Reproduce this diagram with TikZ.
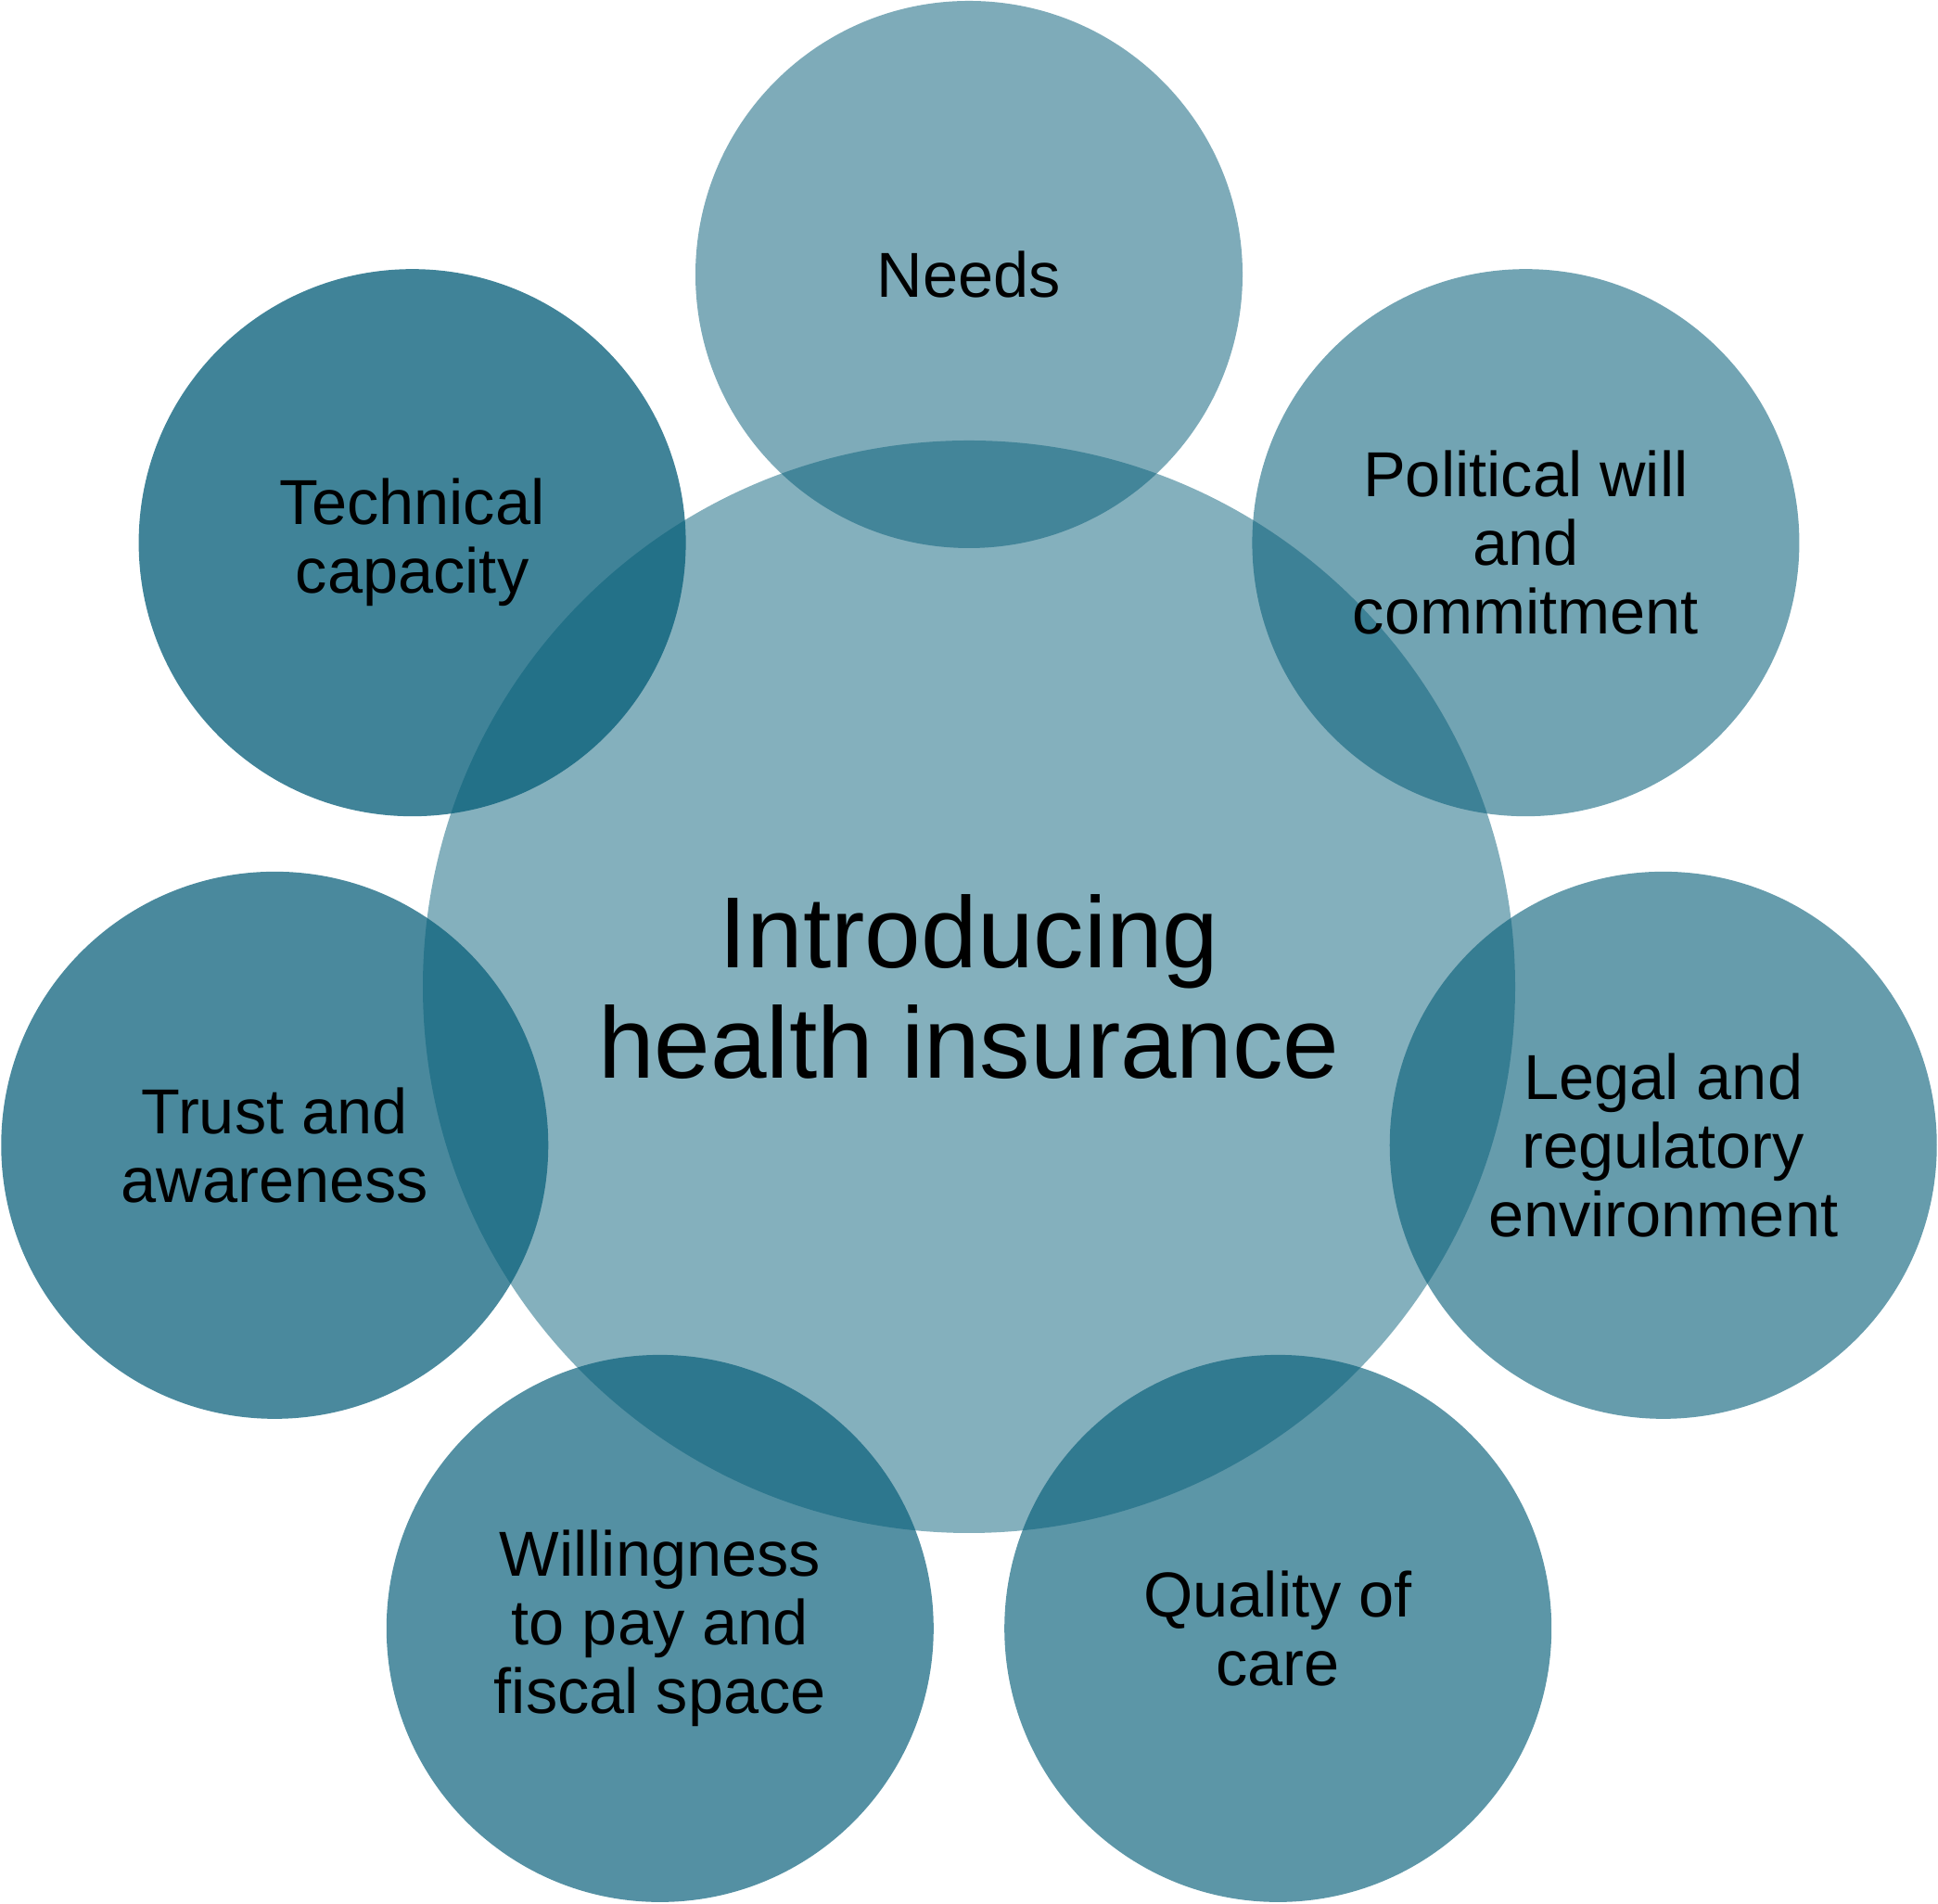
\documentclass[tikz,border=0pt]{standalone}
\usepackage{fontspec}
\setmainfont{Liberation Sans}
\usetikzlibrary{calc}
\definecolor{basecol}{RGB}{5,93,120}
\begin{document}
\begin{tikzpicture}[
  hub/.style={circle, draw=none, fill=basecol, minimum size=11.78cm, inner sep=0pt,
    align=center, text=black, text opacity=1,
    font=\fontsize{31}{34}\selectfont},
  petal/.style={circle, draw=none, fill=basecol, minimum size=5.9cm, inner sep=0pt,
    align=center, text=black, text opacity=1,
    font=\fontsize{19.5}{21.1}\selectfont}
]
\useasboundingbox (0,0) rectangle (20.9,20.53);
\coordinate (c) at (10.45,9.89);
\node[hub, fill opacity=0.49] (hub) at (c) {Introducing\\health insurance};
\node[petal, fill opacity=0.516] (needs) at ($(c)+(90:7.68)$) {Needs};
\node[petal, fill opacity=0.564] (pol) at ($(c)+(38.571:7.68)$) {Political will\\and\\commitment};
\node[petal, fill opacity=0.612] (legal) at ($(c)+(-12.857:7.68)$) {Legal and\\regulatory\\environment};
\node[petal, fill opacity=0.652] (qual) at ($(c)+(-64.286:7.68)$) {Quality of\\care};
\node[petal, fill opacity=0.684] (will) at ($(c)+(-115.714:7.68)$) {Willingness\\to pay and\\fiscal space};
\node[petal, fill opacity=0.724] (trust) at ($(c)+(-167.143:7.68)$) {Trust and\\awareness};
\node[petal, fill opacity=0.764] (tech) at ($(c)+(141.429:7.68)$) {Technical\\capacity};
\end{tikzpicture}
\end{document}
